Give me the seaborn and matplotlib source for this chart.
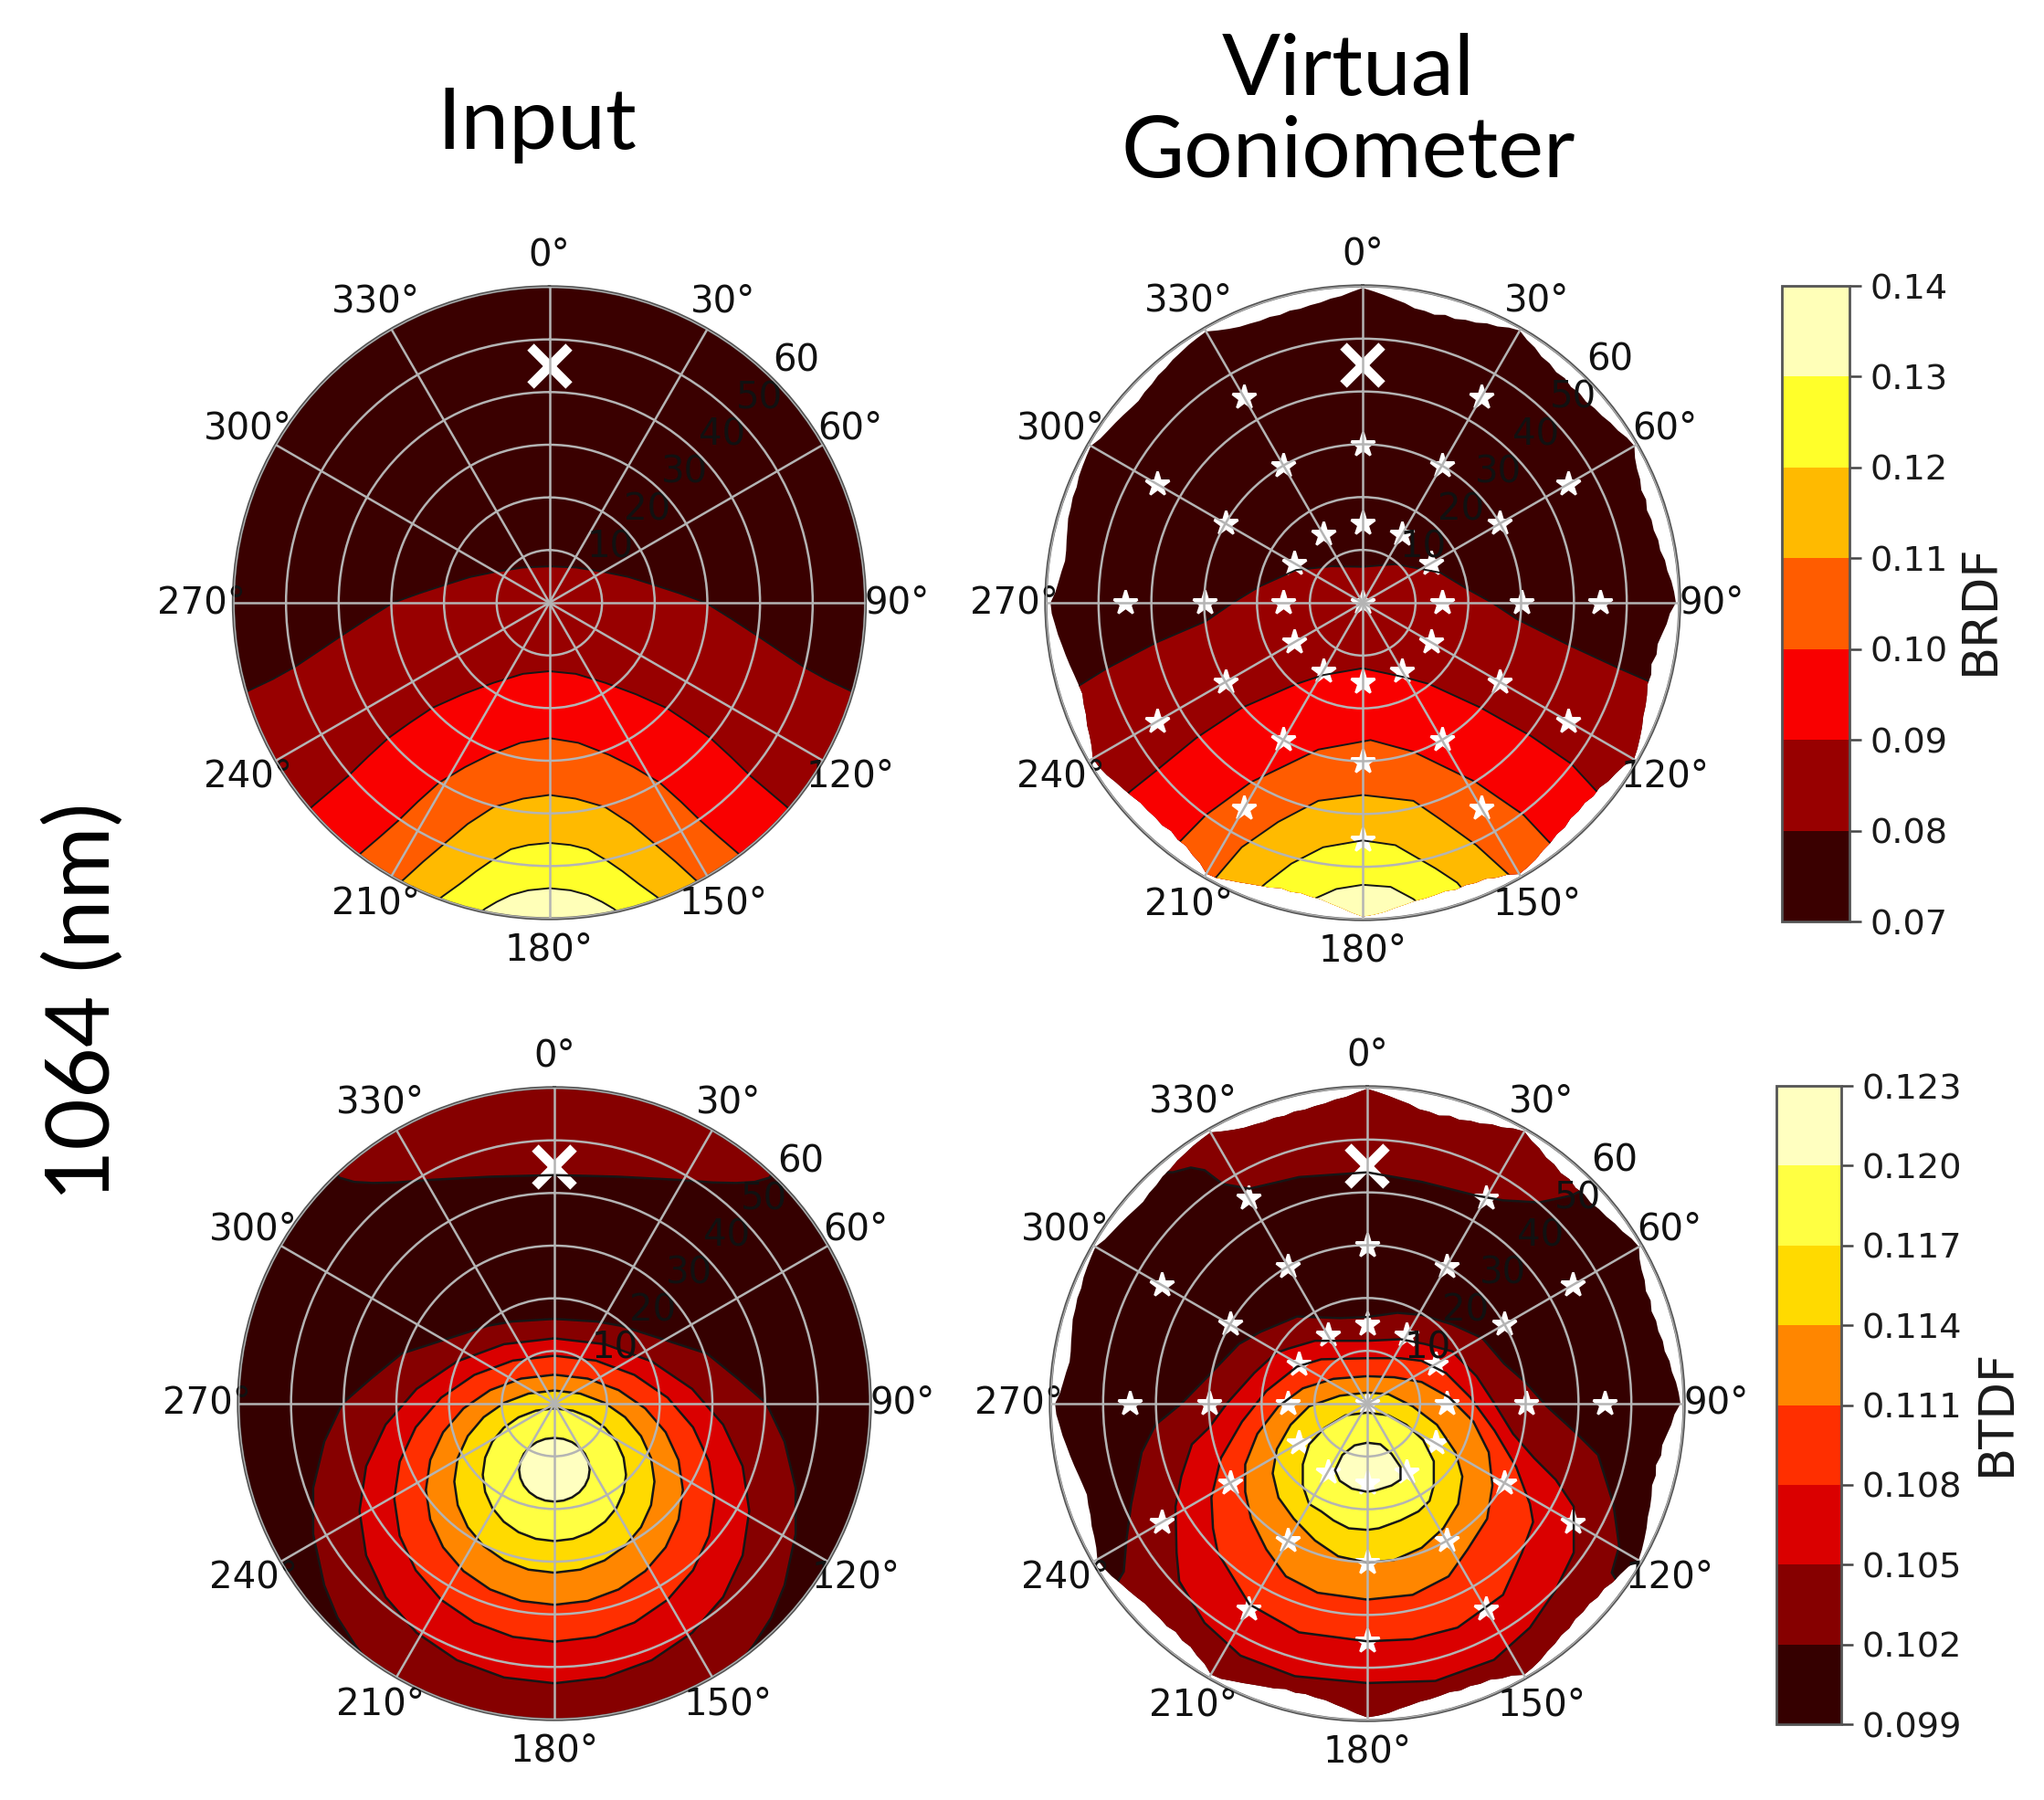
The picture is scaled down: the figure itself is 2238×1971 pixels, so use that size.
import numpy as np
import seaborn as sns
import matplotlib
matplotlib.use("Agg")
import matplotlib.pyplot as plt
from matplotlib.colors import BoundaryNorm, ListedColormap
from matplotlib.cm import ScalarMappable

sns.set_theme(style="white")
plt.rcParams['font.family'] = 'DejaVu Sans'

W, H = 2238, 1971

brdf_levels = [0.07, 0.08, 0.09, 0.10, 0.11, 0.12, 0.13, 0.14]
btdf_levels = [0.099, 0.102, 0.105, 0.108, 0.111, 0.114, 0.117, 0.120, 0.123]
brdf_ticklabels = ['0.07', '0.08', '0.09', '0.10', '0.11', '0.12', '0.13', '0.14']
btdf_ticklabels = ['0.099', '0.102', '0.105', '0.108', '0.111', '0.114', '0.117', '0.120', '0.123']
r_ticks = [10, 20, 30, 40, 50, 60]

# isolines, x/y are zenith angle projected on the plane (deg)
# input BRDF, left-right symmetric so only the right half is kept
in_brdf_08_x = [0, 5, 10.6, 15, 19.8, 24.7, 29.7, 34.5, 39.4, 44, 48.2, 52.5, 56.5, 66]
in_brdf_08_y = [6.9, 6.7, 5.8, 4.9, 3.4, 1.8, 0, -3, -6.2, -9.3, -12.1, -14.5, -16.4, -21]
in_brdf_09_x = [0, 5, 10.6, 16.5, 22.3, 26.5, 30.7, 34.5, 38.2, 41.5, 44.8, 52]
in_brdf_09_y = [-13, -13.5, -15.2, -17.4, -20, -22.8, -25.8, -29.3, -32.9, -35.7, -38.5, -45]
in_brdf_10_x = [0, 5.5, 11.4, 16, 21, 25, 28.6, 32, 35.5, 43]
in_brdf_10_y = [-25.7, -26.6, -28.9, -31.2, -34.2, -37.8, -41.3, -44.3, -47.3, -54]
in_brdf_11_x = [0, 5, 10.6, 15.5, 20, 24, 27.5, 35]
in_brdf_11_y = [-36.5, -37.2, -38.8, -42, -45.8, -49.2, -52.4, -59]
in_brdf_12_x = [0, 4, 7.3, 11, 13.9, 17, 20.2, 27]
in_brdf_12_y = [-45.6, -46, -46.8, -49, -51, -53.4, -55.7, -61]
in_brdf_13_x = [0, 4, 7.3, 10, 12.2, 17]
in_brdf_13_y = [-54.2, -54.6, -55.5, -56.8, -58.1, -62]

# virtual goniometer BRDF, left to right
vg_brdf_08_x = [-62, -53.7, -48.4, -39, -29.7, -24.6, -19.5, -12.6, -6, 0, 6.2, 14.7, 19.8, 24.5, 29.2, 39, 48.5, 54, 62]
vg_brdf_08_y = [-20, -15.7, -12.4, -7.5, -3.5, 0, 3.1, 6.2, 6.9, 6.8, 7.3, 5.7, 2.6, 0, -3.1, -8, -12.4, -14.8, -18]
vg_brdf_09_x = [-52, -44, -39.1, -31.5, -22.9, -12.6, -7.5, 0, 7.9, 12.6, 22.4, 31.8, 39.5, 44.2, 52]
vg_brdf_09_y = [-43, -35.7, -31.8, -25.6, -19.9, -15.4, -13.7, -12.4, -14.1, -15.4, -19.9, -25.2, -30.5, -35.6, -42]
vg_brdf_10_x = [-42, -34.4, -29.7, -21.2, -8.4, 1.5, 9.6, 21.5, 30.5, 35, 42]
vg_brdf_10_y = [-52, -45, -40.2, -34, -27.8, -26, -28.2, -34, -40.2, -45, -52]
vg_brdf_11_x = [-34, -27.6, -22.9, -16, -8.4, 0, 9.6, 14.7, 21.5, 28, 34]
vg_brdf_11_y = [-58, -51.8, -46.3, -41.5, -37.5, -36.4, -37.5, -41, -45.9, -51.8, -58]
vg_brdf_12_x = [-24, -18.2, -13.5, -7.5, 0, 6.2, 13.8, 17.9, 22]
vg_brdf_12_y = [-58, -53, -49.4, -46.3, -45, -45.9, -50.3, -53, -58]
vg_brdf_13_x = [-14, -9.7, -5, 0, 5.3, 9.6, 14]
vg_brdf_13_y = [-60, -56.3, -54.2, -53.4, -53.8, -56.1, -60]

# input BTDF, symmetric, right half from top to bottom
in_btdf_top_x = [0, 12, 23.5, 30, 34.5, 38, 40.8, 46]
in_btdf_top_y = [43.4, 43.1, 42.5, 42, 41.9, 42.1, 42.9, 50]
in_btdf_102_x = [0, 8, 12.6, 21, 29, 34.9, 40.3, 43.7, 45.8, 45.8, 43.7, 41.2, 37.8, 33]
in_btdf_102_y = [16.1, 15.6, 14.8, 12.1, 9.5, 4.7, 0, -7.2, -16, -24.8, -34.5, -40.6, -45.9, -52]
in_btdf_105_x = [0, 9.58, 18.5, 26.16, 32.04, 35.74, 37, 35.74, 32.04, 26.16, 18.5, 9.58, 0]
in_btdf_105_y = [12.4, 11.29, 8.01, 2.8, -3.98, -11.87, -20.35, -28.83, -36.73, -43.5, -48.71, -51.99, -53.1]
in_btdf_108_x = [0, 7.87, 15.2, 21.49, 26.33, 29.37, 30.4, 29.37, 26.33, 21.49, 15.2, 7.87, 0]
in_btdf_108_y = [9.1, 8.18, 5.46, 1.15, -4.48, -11.02, -18.05, -25.08, -31.63, -37.25, -41.56, -44.28, -45.2]
in_btdf_111_x = [0, 6.32, 12.2, 17.25, 21.13, 23.57, 24.4, 23.57, 21.13, 17.25, 12.2, 6.32, 0]
in_btdf_111_y = [5.5, 4.76, 2.57, -0.9, -5.43, -10.69, -16.35, -22.01, -27.27, -31.8, -35.27, -37.46, -38.2]
in_btdf_114_x = [0, 4.92, 9.5, 13.43, 16.45, 18.35, 19, 18.35, 16.45, 13.43, 9.5, 4.92, 0]
in_btdf_114_y = [2.5, 1.91, 0.18, -2.57, -6.15, -10.32, -14.8, -19.28, -23.45, -27.03, -29.78, -31.51, -32.1]
in_btdf_117_x = [0, 3.52, 6.8, 9.62, 11.78, 13.14, 13.6, 13.14, 11.78, 9.62, 6.8, 3.52, 0]
in_btdf_117_y = [-0.9, -1.33, -2.59, -4.59, -7.2, -10.24, -13.5, -16.76, -19.8, -22.41, -24.41, -25.67, -26.1]
in_btdf_120_x = [0, 1.74, 3.35, 4.74, 5.8, 6.47, 6.7, 6.47, 5.8, 4.74, 3.35, 1.74, 0]
in_btdf_120_y = [-6.5, -6.7, -7.3, -8.27, -9.53, -10.98, -12.55, -14.12, -15.57, -16.83, -17.8, -18.4, -18.6]

# virtual goniometer BTDF
vg_btdf_top_x = [-42, -36.8, -33.4, -30.8, -27.4, -22.3, -12.9, 0, 10.3, 20.6, 25.7, 32.6, 38.6, 44]
vg_btdf_top_y = [44, 43.8, 44.7, 44.2, 41.6, 40.7, 42.9, 43.8, 42, 39.4, 38.5, 38.1, 39.4, 42]
vg_btdf_102_x = [-60, -46.1, -45.6, -44.7, -42.7, -40.1, -35.2, -31.2, -24.3, -20.2, -13.3, -5.2, 0, 5.7, 10.3, 16.1, 21.8, 25.9, 29.9, 34, 39.7, 43.7, 46.6, 47.7, 46.3, 60]
vg_btdf_102_y = [-55, -31.8, -25.9, -19, -9.2, -4, 0, 4.1, 11.3, 13.6, 16.5, 16.2, 16.4, 17.2, 16.8, 15, 12.4, 7.6, 4.1, -0.5, -5.7, -9.7, -19, -27, -32, -55]
vg_btdf_105_x = [0, 6.3, 10.9, 16.1, 20.7, 24.1, 27.6, 31.6, 35.7, 39.1, 39.1, 35.6, 30.8, 24, 12.9, 0, -13.7, -24, -30.8, -35.6, -36.1, -36.3, -35.2, -33.2, -30, -26.6, -21.4, -17.3, -15, -9.9]
vg_btdf_105_y = [11.9, 12.2, 11.3, 9.9, 5.2, 0, -5.7, -10.3, -14.4, -19.5, -28.2, -35.4, -42.4, -48.5, -52.5, -52.9, -51.6, -47.7, -41.5, -33.6, -28.2, -19.5, -13.8, -7.7, -4.6, 0, 5.8, 9.6, 10.4, 11.9]
vg_btdf_108_x = [0, 6.3, 10.3, 14.9, 19.5, 24.1, 28.2, 30.8, 31.4, 29.3, 25.7, 17.1, 8.6, 0, -12.9, -22.3, -28.3, -29.2, -29.5, -27.7, -23.7, -19.1, -13.3, -8.7]
vg_btdf_108_y = [8.6, 8.6, 8.1, 5.8, 1.2, -5.1, -12, -19, -22.4, -28.2, -36.2, -42.4, -44.6, -45, -43.3, -38, -28.2, -23.6, -17.8, -10.3, -3.4, 2.4, 7, 8.4]
vg_btdf_111_x = [0, 5.1, 10.3, 15.5, 20.1, 23, 23.7, 22.7, 19, 15.4, 8.6, 0, -9.4, -15.4, -19.1, -22, -23.1, -23.1, -20.8, -16.8, -12.2, -6.4]
vg_btdf_111_y = [5.2, 5, 4.1, 1.2, -3.4, -9.2, -15.5, -21.8, -27.6, -32.7, -36.2, -37.1, -35.8, -32.7, -27.6, -21.8, -16.7, -11.5, -5.7, -0.5, 2.9, 4.7]
vg_btdf_114_x = [0, 4, 8.6, 13.2, 16.7, 18, 17.2, 14.4, 10.3, 5.1, 0, -5.5, -9.9, -13.9, -16.8, -17.9, -17.1, -14.5, -11, -5.2]
vg_btdf_114_y = [2.1, 1.8, -0.5, -4, -9.2, -13.8, -19, -23.6, -27.3, -29.6, -30.1, -28.9, -25.9, -21.8, -17.8, -13.2, -8.6, -4, -0.5, 1.5]
vg_btdf_117_x = [0, 4, 7.4, 10.6, 12.6, 12.6, 11.8, 9.7, 6.3, 2.2, 0, -3.5, -6.4, -8.7, -11, -12.2, -12.2, -11, -8.1, -4.1]
vg_btdf_117_y = [-1.7, -2.2, -4, -6.9, -10.9, -15.5, -18.4, -20.4, -22.1, -23.6, -23.9, -23.6, -22.1, -20.4, -19, -15.5, -11.5, -7.7, -4.6, -2.2]
vg_btdf_120_x = [0, 2.5, 4.6, 6.3, 6.3, 4.6, 1.7, 0, -2.9, -5.2, -6.1, -4.7, -2.4]
vg_btdf_120_y = [-7.4, -7.7, -9.5, -12, -14.4, -15.5, -16.4, -16.7, -16.1, -14.6, -12.6, -9.7, -7.9]

# rim of the goniometer data, every 2 deg
gonio_edge_theta = list(range(0, 360, 2))
gonio_edge_r = [59.6, 59.0, 58.4, 57.8, 57.3, 56.6, 56.5, 56.2, 56.7, 56.5, 57.0, 57.2, 57.9, 58.2, 59.0,
                59.5, 58.7, 58.3, 57.6, 57.5, 57.0, 57.2, 56.8, 57.1, 56.9, 57.3, 57.5, 58.0, 58.3, 59.0,
                59.4, 58.4, 57.8, 57.5, 56.9, 57.1, 56.6, 56.9, 56.8, 57.2, 57.2, 57.8, 58.0, 58.6, 59.0,
                59.3, 58.2, 57.7, 57.0, 56.4, 56.5, 55.9, 56.3, 56.1, 56.6, 57.0, 57.3, 57.9, 58.4, 58.9,
                59.3, 58.3, 57.8, 57.5, 56.9, 57.0, 56.6, 56.8, 56.7, 57.2, 57.2, 57.7, 58.0, 58.6, 59.0,
                59.3, 58.3, 57.9, 57.2, 57.2, 56.9, 57.1, 56.8, 57.0, 57.2, 57.3, 57.7, 58.1, 58.7, 59.1,
                59.4, 58.7, 57.9, 57.3, 56.7, 56.5, 56.2, 56.4, 56.2, 56.7, 57.0, 57.4, 57.9, 58.4, 59.0,
                59.2, 58.1, 57.6, 56.9, 56.9, 56.4, 56.7, 56.5, 56.6, 56.6, 57.0, 57.4, 57.8, 58.4, 58.8,
                59.0, 58.1, 57.5, 57.1, 56.5, 56.2, 55.8, 56.0, 56.3, 56.7, 57.1, 57.5, 58.0, 58.4, 58.9,
                59.1, 58.2, 57.7, 57.3, 56.9, 57.0, 57.3, 57.6, 58.0, 58.1, 58.4, 58.4, 58.8, 59.0, 59.2,
                59.4, 58.6, 58.2, 57.9, 57.6, 57.3, 57.1, 57.4, 57.5, 57.9, 58.0, 58.4, 58.6, 58.9, 59.1,
                59.3, 58.4, 57.7, 57.2, 57.0, 56.8, 56.9, 56.7, 57.0, 56.9, 57.2, 57.4, 57.9, 58.2, 58.9]

star_azimuth = [0, 30, 60, 90, 120, 150, 180, 210, 240, 270, 300, 330]
star_zenith = [15, 30, 45]
source_azimuth = 0
source_zenith = 45

hot = sns.color_palette("hot", as_cmap=True)


def band_colors(levels):
    lo, hi = levels[0], levels[-1]
    mids = [(a + b) / 2 for a, b in zip(levels[:-1], levels[1:])]
    return [hot((m - lo) / (hi - lo)) for m in mids]


def to_polar(x, y):
    x, y = np.asarray(x, float), np.asarray(y, float)
    return np.mod(np.arctan2(x, y), 2 * np.pi), np.hypot(x, y)


def mirror_open(x, y):
    # right half only -> whole curve from left to right
    x, y = np.asarray(x), np.asarray(y)
    return np.r_[-x[:0:-1], x], np.r_[y[:0:-1], y]


def mirror_closed(x, y):
    x, y = np.asarray(x), np.asarray(y)
    return np.r_[x, -x[-2:0:-1]], np.r_[y, y[-2:0:-1]]


def panel_axes(cx, cy, R):
    ax = fig.add_axes([(cx - R) / W, 1 - (cy + R) / H, 2 * R / W, 2 * R / H], projection='polar')
    ax.set_theta_zero_location('N')
    ax.set_theta_direction(-1)
    return ax


def draw_panel(ax, curves, colors, lw, gonio=False):
    base = None
    if gonio:
        ax.set_facecolor('white')
        th = np.radians(gonio_edge_theta)
        base = ax.fill(th, gonio_edge_r, color=colors[0], lw=0, zorder=0.9)[0]
    else:
        ax.set_facecolor(colors[0])

    for x, y, kind, col in curves:
        x, y = np.asarray(x, float), np.asarray(y, float)
        if kind == 'bottom':
            px, py = np.r_[x, 90, -90], np.r_[y, -90, -90]
        elif kind == 'top':
            px, py = np.r_[x, 90, -90], np.r_[y, 90, 90]
        else:
            x, y = np.r_[x, x[0]], np.r_[y, y[0]]
            px, py = x, y
        t, r = to_polar(px, py)
        poly = ax.fill(t, r, color=col, lw=0, zorder=1)[0]
        t, r = to_polar(x, y)
        line = ax.plot(t, r, color='#161616', lw=lw, zorder=1.6)[0]
        if base is not None:
            poly.set_clip_path(base)
            line.set_clip_path(base)

    if gonio:
        ax.plot(0, 0, ls='', marker='*', ms=20, mew=2, color='white', mec='white', zorder=1.3)
        for az in star_azimuth:
            for ze in star_zenith:
                if az == source_azimuth and ze == source_zenith:
                    continue
                ax.plot(np.radians(az), ze, ls='', marker='*', ms=20, mew=2, color='white', mec='white', zorder=1.3)
    ax.plot(np.radians(source_azimuth), source_zenith, ls='', marker='x', ms=30, mew=7.5,
            color='white', zorder=1.3)

    ax.set_axisbelow(False)
    ax.set_thetagrids(range(0, 360, 30))
    ax.set_rgrids(r_ticks, [str(v) for v in r_ticks])
    ax.set_rlabel_position(45)
    ax.set_thetalim(0, 2 * np.pi)
    ax.set_ylim(0, 60)
    ax.grid(True, color='#b4b4b4', lw=1.8, zorder=2.5)
    ax.tick_params(axis='both', labelsize=29, labelcolor='#111111')
    ax.tick_params(axis='x', pad=12)
    ax.spines['polar'].set_color('#555555')
    ax.spines['polar'].set_linewidth(2.4)


def add_colorbar(x0, x1, y0, y1, levels, labels, name, name_x, name_y):
    cax = fig.add_axes([x0 / W, 1 - y1 / H, (x1 - x0) / W, (y1 - y0) / H])
    cmap = ListedColormap(band_colors(levels))
    sm = ScalarMappable(norm=BoundaryNorm(levels, cmap.N), cmap=cmap)
    cb = fig.colorbar(sm, cax=cax, ticks=levels, spacing='proportional')
    cb.ax.set_yticklabels(labels)
    cb.ax.tick_params(labelsize=27.5, length=9, width=1.8, color='#444444', labelcolor='#1a1a1a', pad=7, right=True)
    cb.outline.set_edgecolor('#555555')
    cb.outline.set_linewidth(2)
    fig.text(name_x / W, 1 - name_y / H, name, rotation=90, ha='center', va='center',
             fontsize=38, color='#1a1a1a')


fig = plt.figure(figsize=(W / 100, H / 100), dpi=100, facecolor='white')

c = band_colors(brdf_levels)
ax1 = panel_axes(601.5, 660, 346)
draw_panel(ax1, [(*mirror_open(in_brdf_08_x, in_brdf_08_y), 'bottom', c[1]),
                 (*mirror_open(in_brdf_09_x, in_brdf_09_y), 'bottom', c[2]),
                 (*mirror_open(in_brdf_10_x, in_brdf_10_y), 'bottom', c[3]),
                 (*mirror_open(in_brdf_11_x, in_brdf_11_y), 'bottom', c[4]),
                 (*mirror_open(in_brdf_12_x, in_brdf_12_y), 'bottom', c[5]),
                 (*mirror_open(in_brdf_13_x, in_brdf_13_y), 'bottom', c[6])], c, 1.4)

ax2 = panel_axes(1492, 660, 347)
draw_panel(ax2, [(vg_brdf_08_x, vg_brdf_08_y, 'bottom', c[1]),
                 (vg_brdf_09_x, vg_brdf_09_y, 'bottom', c[2]),
                 (vg_brdf_10_x, vg_brdf_10_y, 'bottom', c[3]),
                 (vg_brdf_11_x, vg_brdf_11_y, 'bottom', c[4]),
                 (vg_brdf_12_x, vg_brdf_12_y, 'bottom', c[5]),
                 (vg_brdf_13_x, vg_brdf_13_y, 'bottom', c[6])], c, 1.4, gonio=True)

c = band_colors(btdf_levels)
ax3 = panel_axes(607, 1537, 346)
draw_panel(ax3, [(*mirror_open(in_btdf_top_x, in_btdf_top_y), 'top', c[1]),
                 (*mirror_open(in_btdf_102_x, in_btdf_102_y), 'bottom', c[1]),
                 (*mirror_closed(in_btdf_105_x, in_btdf_105_y), 'closed', c[2]),
                 (*mirror_closed(in_btdf_108_x, in_btdf_108_y), 'closed', c[3]),
                 (*mirror_closed(in_btdf_111_x, in_btdf_111_y), 'closed', c[4]),
                 (*mirror_closed(in_btdf_114_x, in_btdf_114_y), 'closed', c[5]),
                 (*mirror_closed(in_btdf_117_x, in_btdf_117_y), 'closed', c[6]),
                 (*mirror_closed(in_btdf_120_x, in_btdf_120_y), 'closed', c[7])], c, 1.8)

ax4 = panel_axes(1497, 1537, 347)
draw_panel(ax4, [(vg_btdf_top_x, vg_btdf_top_y, 'top', c[1]),
                 (vg_btdf_102_x, vg_btdf_102_y, 'bottom', c[1]),
                 (vg_btdf_105_x, vg_btdf_105_y, 'closed', c[2]),
                 (vg_btdf_108_x, vg_btdf_108_y, 'closed', c[3]),
                 (vg_btdf_111_x, vg_btdf_111_y, 'closed', c[4]),
                 (vg_btdf_114_x, vg_btdf_114_y, 'closed', c[5]),
                 (vg_btdf_117_x, vg_btdf_117_y, 'closed', c[6]),
                 (vg_btdf_120_x, vg_btdf_120_y, 'closed', c[7])], c, 1.8, gonio=True)

add_colorbar(1951, 2025, 313, 1009, brdf_levels, brdf_ticklabels, 'BRDF', 2168, 667)
add_colorbar(1945, 2016, 1189, 1888, btdf_levels, btdf_ticklabels, 'BTDF', 2186, 1546)

fig.text(588 / W, 1 - 137 / H, 'Input', family='Lato', fontsize=68, ha='center', va='center', color='black')
fig.text(1476 / W, 1 - 78 / H, 'Virtual', family='Lato', fontsize=68, ha='center', va='center', color='black')
fig.text(1476 / W, 1 - 168 / H, 'Goniometer', family='Lato', fontsize=68, ha='center', va='center', color='black')
fig.text(92 / W, 1 - 1097 / H, '1064 (nm)', family='Lato', fontsize=70, rotation=90, ha='center', va='center', color='black')

fig.savefig('out.png', dpi=100, facecolor='white')
